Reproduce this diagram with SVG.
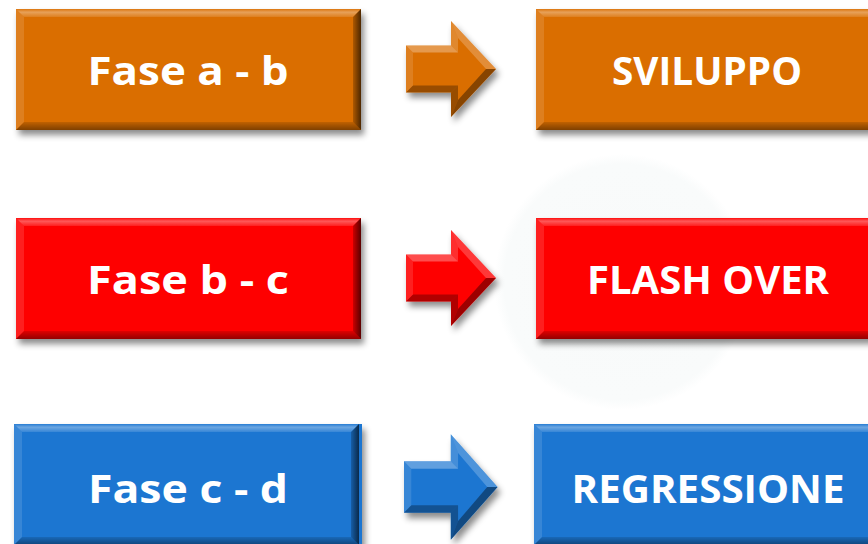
<svg xmlns="http://www.w3.org/2000/svg" width="868" height="544" viewBox="0 0 868 544">
  <defs>
    <filter id="shadow" x="-10%" y="-20%" width="125%" height="150%">
      <feDropShadow dx="3" dy="5" stdDeviation="3" flood-color="#000" flood-opacity="0.45"/>
    </filter>
    <linearGradient id="topLight" x1="0" y1="0" x2="0" y2="1">
      <stop offset="0" stop-color="#fff" stop-opacity="0.05"/>
      <stop offset="0.4" stop-color="#fff" stop-opacity="0.35"/>
      <stop offset="1" stop-color="#fff" stop-opacity="0.12"/>
    </linearGradient>
    <linearGradient id="bottomDark" x1="0" y1="0" x2="0" y2="1">
      <stop offset="0" stop-color="#000" stop-opacity="0.12"/>
      <stop offset="1" stop-color="#000" stop-opacity="0.42"/>
    </linearGradient>
    <linearGradient id="rightDark" x1="0" y1="0" x2="1" y2="0">
      <stop offset="0" stop-color="#000" stop-opacity="0.2"/>
      <stop offset="1" stop-color="#000" stop-opacity="0.65"/>
    </linearGradient>
    <!-- bevelled edges for a 345 x 121 box -->
    <g id="boxBevel">
      <polygon points="0,0 345,0 337,8 8,8" fill="url(#topLight)"/>
      <polygon points="0,0 8,8 8,113 0,121" fill="#fff" fill-opacity="0.12"/>
      <polygon points="0,121 8,113 337,113 345,121" fill="url(#bottomDark)"/>
      <polygon points="345,0 345,121 337,113 337,8" fill="url(#rightDark)"/>
    </g>
    <!-- block arrow outline and facets, origin at shaft left / centre line -->
    <path id="arrowShape" d="M0,-23.5 H45 V-48 L90,0 L45,48 V23.5 H0 Z"/>
    <g id="arrowBevel">
      <polygon points="0,-23.5 45,-23.5 52,-16.5 7,-16.5" fill="#fff" fill-opacity="0.3"/>
      <polygon points="0,-23.5 7,-16.5 7,16.5 0,23.5" fill="#fff" fill-opacity="0.12"/>
      <polygon points="0,23.5 7,16.5 52,16.5 45,23.5" fill="#000" fill-opacity="0.3"/>
      <polygon points="45,-48 45,-23.5 52,-16.5 52,-31" fill="#fff" fill-opacity="0.18"/>
      <polygon points="45,-48 90,0 80,0 52,-31" fill="#fff" fill-opacity="0.22"/>
      <polygon points="90,0 45,48 52,31 80,0" fill="#000" fill-opacity="0.38"/>
      <polygon points="45,48 52,31 52,16.5 45,23.5" fill="#000" fill-opacity="0.3"/>
    </g>
    <radialGradient id="glow" cx="0.5" cy="0.5" r="0.5">
      <stop offset="0" stop-color="#f8fafa"/>
      <stop offset="0.92" stop-color="#f9fbfb"/>
      <stop offset="1" stop-color="#ffffff"/>
    </radialGradient>
  </defs>
  <style>
    .orange { fill: #da6e05; }
    .red { fill: #fe0505; }
    .blue { fill: #1a76d1; }
    .label { font-family: "Open Sans", "DejaVu Sans", sans-serif; font-weight: bold; font-size: 39px; fill: #ffffff; text-anchor: middle; }
  </style>

  <rect width="868" height="544" fill="#ffffff"/>
  <circle cx="622" cy="282" r="128" fill="url(#glow)"/>

  <!-- row 1 -->
  <g id="fase-ab">
    <rect class="orange" x="16" y="9" width="345" height="121" filter="url(#shadow)"/>
    <use href="#boxBevel" x="16" y="9"/>
    <text class="label" x="188" y="85" textLength="201" lengthAdjust="spacingAndGlyphs">Fase a - b</text>
  </g>
  <g id="sviluppo">
    <rect class="orange" x="536" y="9" width="345" height="121" filter="url(#shadow)"/>
    <use href="#boxBevel" x="536" y="9"/>
    <text class="label" x="707" y="85" textLength="190" lengthAdjust="spacingAndGlyphs">SVILUPPO</text>
  </g>

  <!-- row 2 -->
  <g id="fase-bc">
    <rect class="red" x="16" y="218" width="345" height="121" filter="url(#shadow)"/>
    <use href="#boxBevel" x="16" y="218"/>
    <text class="label" x="188" y="294" textLength="202" lengthAdjust="spacingAndGlyphs">Fase b - c</text>
  </g>
  <g id="flash-over">
    <rect class="red" x="536" y="218" width="345" height="121" filter="url(#shadow)"/>
    <use href="#boxBevel" x="536" y="218"/>
    <text class="label" x="708" y="294" textLength="242" lengthAdjust="spacingAndGlyphs">FLASH OVER</text>
  </g>

  <!-- row 3 -->
  <g id="fase-cd">
    <rect class="blue" x="14" y="424" width="348" height="124" filter="url(#shadow)"/>
    <use href="#boxBevel" x="14" y="424"/>
    <text class="label" x="188" y="503" textLength="200" lengthAdjust="spacingAndGlyphs">Fase c - d</text>
  </g>
  <g id="regressione">
    <rect class="blue" x="534" y="424" width="348" height="124" filter="url(#shadow)"/>
    <use href="#boxBevel" x="534" y="424"/>
    <text class="label" x="708" y="503" textLength="273" lengthAdjust="spacingAndGlyphs">REGRESSIONE</text>
  </g>

  <!-- connectors -->
  <g id="connectors">
    <g transform="translate(406,69)">
      <use href="#arrowShape" class="orange" filter="url(#shadow)"/>
      <use href="#arrowBevel"/>
    </g>
    <g transform="translate(406,278)">
      <use href="#arrowShape" class="red" filter="url(#shadow)"/>
      <use href="#arrowBevel"/>
    </g>
    <g transform="translate(404,487) scale(1.04,1.1)">
      <use href="#arrowShape" class="blue" filter="url(#shadow)"/>
      <use href="#arrowBevel"/>
    </g>
  </g>
</svg>
